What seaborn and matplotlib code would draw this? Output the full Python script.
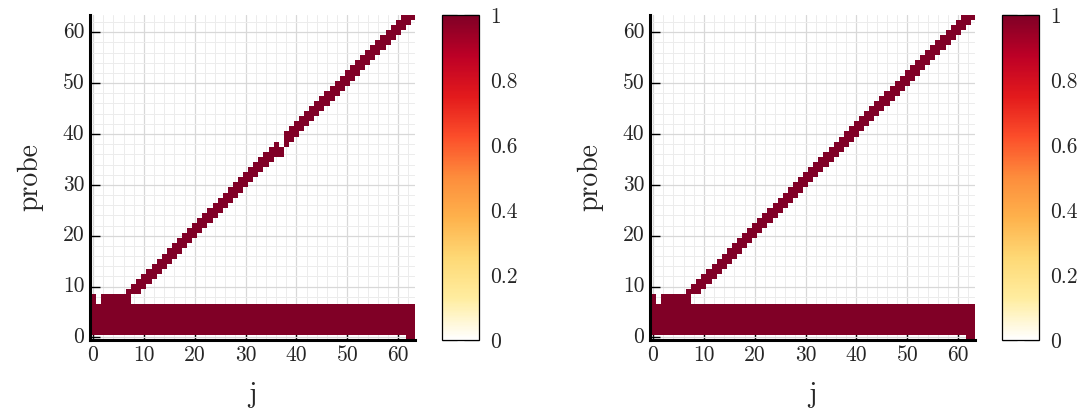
import numpy as np
import pandas as pd
import matplotlib
matplotlib.use("Agg")
import matplotlib.pyplot as plt
import seaborn as sns
from matplotlib.colors import LinearSegmentedColormap

# grid size (j, probe)
n_j = 64
n_probe = 64

# cells that are filled (value 1), everything else is empty
row0_cols = [62, 63]
band_rows = [1, 2, 3, 4, 5, 6]
block_rows = [7, 8]
block_cols = [0, 2, 3, 4, 5, 6, 7]

diag_cols = [7, 8, 9, 10, 11, 12, 13, 14, 15, 16, 17, 18, 19, 20, 21, 22, 23, 24, 25,
             26, 27, 28, 29, 30, 31, 32, 33, 34, 35, 36, 37, 38, 39, 40, 41, 42, 43, 44,
             45, 46, 47, 48, 49, 50, 51, 52, 53, 54, 55, 56, 57, 58, 59, 60, 61, 62, 63]

# lowest / highest filled probe of the diagonal for each column
diag_lo_left = [8, 9, 9, 10, 11, 12, 13, 14, 15, 16, 17, 18, 19, 20, 21, 22, 23, 24, 25,
                26, 27, 28, 29, 30, 31, 32, 33, 34, 35, 36, 36, 38, 39, 40, 41, 42, 43, 44,
                45, 46, 47, 48, 49, 50, 51, 52, 53, 54, 55, 56, 57, 58, 59, 60, 61, 62, 63]
diag_hi_left = [9, 10, 11, 12, 13, 14, 15, 16, 17, 18, 19, 20, 21, 22, 23, 24, 25, 26, 27,
                28, 29, 30, 31, 32, 33, 34, 35, 36, 37, 38, 37, 40, 41, 42, 43, 44, 45, 46,
                47, 48, 49, 50, 51, 52, 53, 54, 55, 56, 57, 58, 59, 60, 61, 62, 63, 63, 63]
diag_lo_right = [8, 9, 9, 10, 11, 12, 13, 14, 15, 16, 17, 18, 19, 20, 21, 22, 23, 24, 25,
                 26, 27, 28, 29, 30, 31, 32, 33, 34, 35, 36, 37, 38, 39, 40, 41, 42, 43, 44,
                 45, 46, 47, 48, 49, 50, 51, 52, 53, 54, 55, 56, 57, 58, 59, 60, 61, 62, 63]
diag_hi_right = [9, 10, 11, 12, 13, 14, 15, 16, 17, 18, 19, 20, 21, 22, 23, 24, 25, 26, 27,
                 28, 29, 30, 31, 32, 33, 34, 35, 36, 37, 38, 39, 40, 41, 42, 43, 44, 45, 46,
                 47, 48, 49, 50, 51, 52, 53, 54, 55, 56, 57, 58, 59, 60, 61, 62, 63, 63, 63]

tick_vals = [0, 10, 20, 30, 40, 50, 60]
cbar_ticks = [0, 0.2, 0.4, 0.6, 0.8, 1]
cbar_labels = ["0", "0.2", "0.4", "0.6", "0.8", "1"]


def build_matrix(diag_lo, diag_hi):
    m = np.full((n_probe, n_j), np.nan)
    m[0, row0_cols] = 1
    m[band_rows, :] = 1
    for r in block_rows:
        m[r, block_cols] = 1
    for c, lo, hi in zip(diag_cols, diag_lo, diag_hi):
        m[lo:hi + 1, c] = 1
    return pd.DataFrame(m)


sns.set_style("white")
plt.rcParams["font.family"] = "serif"
plt.rcParams["font.serif"] = ["cmr10", "DejaVu Serif"]
plt.rcParams["axes.formatter.use_mathtext"] = True
plt.rcParams["axes.unicode_minus"] = False

cmap = LinearSegmentedColormap.from_list(
    "whylorrd", ["#ffffff", "#ffeda0", "#fed976", "#feb24c", "#fd8d3c",
                 "#fc4e2a", "#e31a1c", "#bd0026", "#800026"])

fig = plt.figure(figsize=(10.9, 4.12), dpi=100)
W, H = 1090, 412

panels = [
    (build_matrix(diag_lo_left, diag_hi_left), 90),
    (build_matrix(diag_lo_right, diag_hi_right), 650),
]

for data, x0 in panels:
    ax = fig.add_axes([x0 / W, 72 / H, 325 / W, 325 / H])
    cax = fig.add_axes([(x0 + 351.7) / W, 72 / H, 37.6 / W, 325 / H])
    sns.heatmap(data, ax=ax, cbar_ax=cax, cmap=cmap, vmin=0, vmax=1,
                linewidths=0, cbar_kws={"ticks": cbar_ticks})

    ax.set_xlim(-0.1, 63.8)
    ax.set_ylim(0, 63.9)
    ax.set_aspect("auto")

    # grid behind cells
    ax.set_axisbelow(True)
    ax.set_xticks([v + 0.5 for v in tick_vals])
    ax.set_xticklabels([str(v) for v in tick_vals], rotation=0)
    ax.set_yticks([v + 0.5 for v in tick_vals])
    ax.set_yticklabels([str(v) for v in tick_vals], rotation=0)
    minor = [v + 0.5 for v in range(0, 64, 2)]
    ax.set_xticks(minor, minor=True)
    ax.set_yticks(minor, minor=True)
    ax.grid(True, which="major", color="#d8d8d8", linewidth=0.9)
    ax.grid(True, which="minor", color="#ececec", linewidth=0.7)
    ax.tick_params(which="major", direction="in", length=7, width=1, color="black",
                   labelsize=15.5, pad=4, bottom=True, left=True)
    ax.tick_params(which="minor", length=0)

    for side in ["left", "bottom"]:
        ax.spines[side].set_visible(True)
        ax.spines[side].set_linewidth(2.2)
        ax.spines[side].set_color("black")
    for side in ["top", "right"]:
        ax.spines[side].set_visible(False)

    ax.set_xlabel("j", fontsize=20, labelpad=12)
    ax.set_ylabel("probe", fontsize=20, labelpad=14)

    cb = ax.collections[0].colorbar
    cb.set_ticks(cbar_ticks)
    cb.set_ticklabels(cbar_labels)
    cb.outline.set_linewidth(0.9)
    cb.outline.set_edgecolor("black")
    cb.ax.tick_params(which="major", direction="in", left=True, right=True,
                      length=11, width=1, color="#8c8c8c", labelsize=15.5, pad=8)
    cb.ax.minorticks_off()

fig.savefig("out.png", dpi=100)
